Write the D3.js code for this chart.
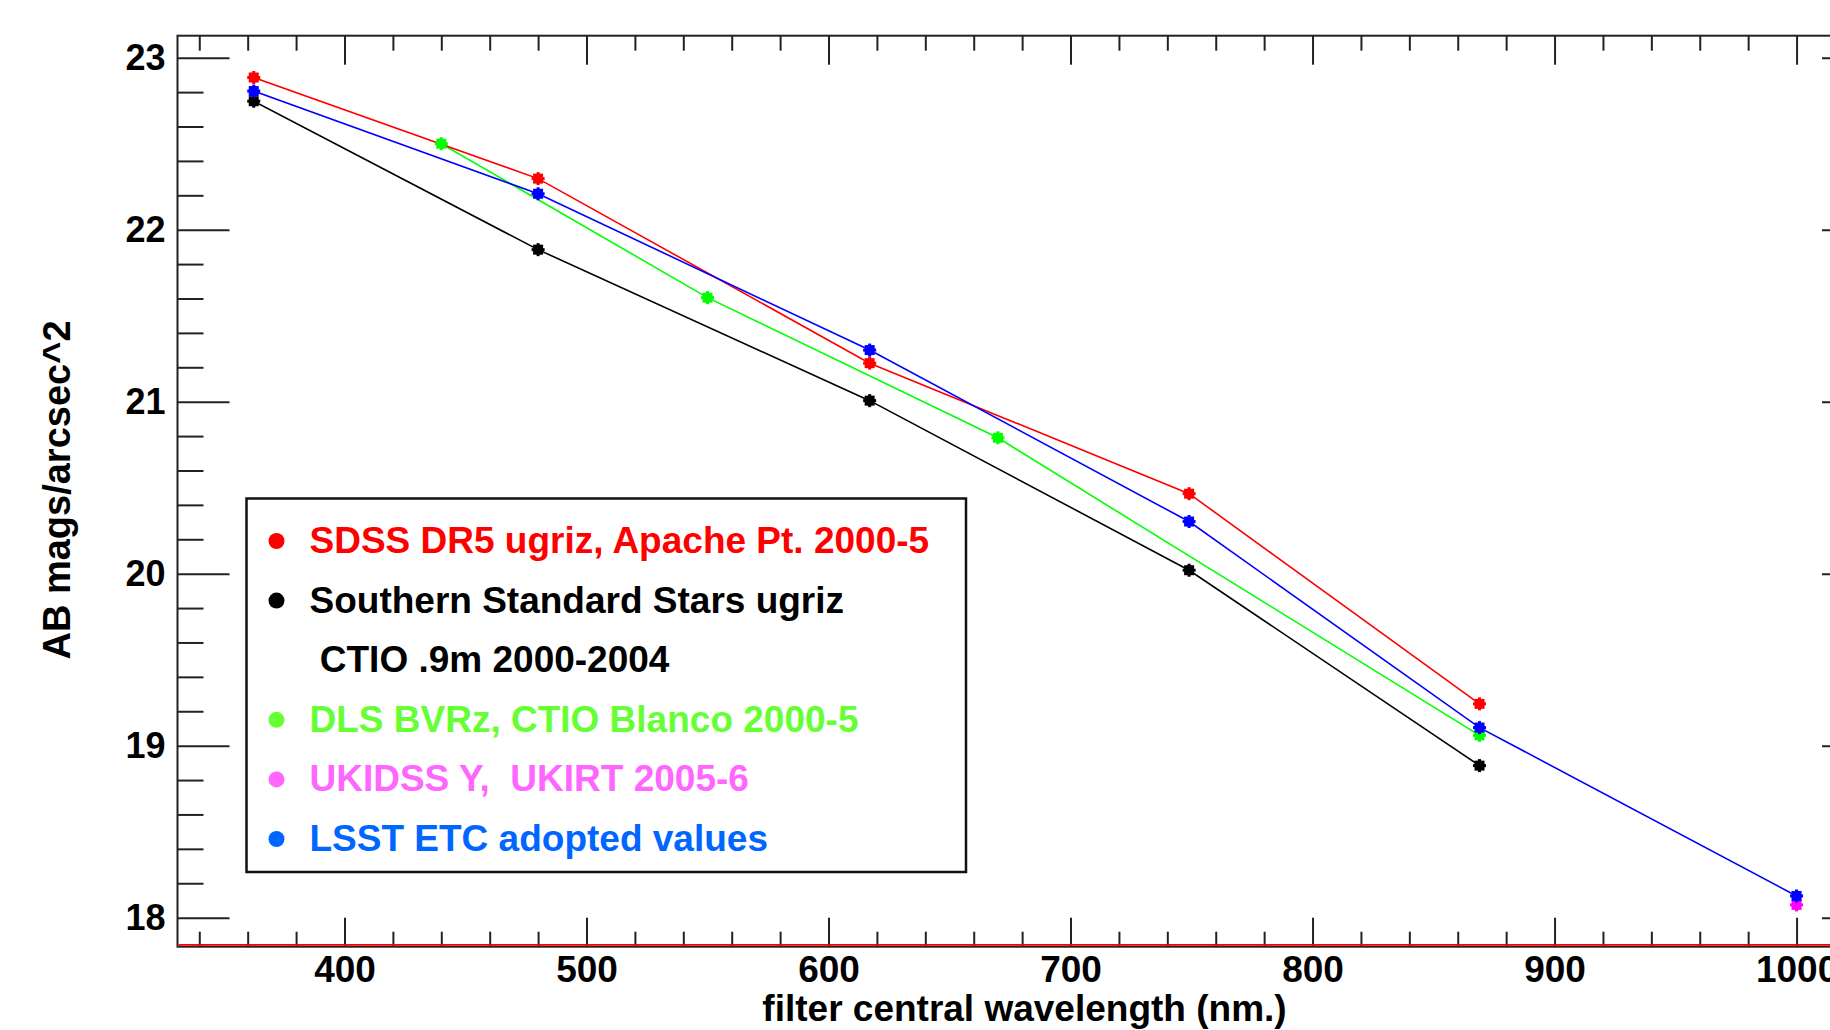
<!DOCTYPE html>
<html>
<head>
<meta charset="utf-8">
<script src="https://cdn.jsdelivr.net/npm/d3@7"></script>
<style>
  html, body { margin: 0; padding: 0; background: #fff; }
  svg { display: block; }
  text { font-family: "Liberation Sans", Arial, Helvetica, sans-serif; font-weight: bold; }
</style>
</head>
<body>
<script>
// ---------------- data ----------------
const sdssWave   = [362.5, 480, 617, 749, 869];
const sdssMag    = [22.885, 22.297, 21.224, 20.465, 19.243];

const southWave  = [362.5, 480, 617, 749, 869];
const southMag   = [22.747, 21.884, 21.006, 20.02, 18.884];

const dlsWave    = [440, 550, 670, 869];
const dlsMag     = [22.5, 21.605, 20.79, 19.06];

const ukidssWave = [1000];
const ukidssMag  = [18.074];

const lsstWave   = [362.5, 480, 617, 749, 869, 1000];
const lsstMag    = [22.806, 22.209, 21.30, 20.303, 19.105, 18.126];

const xTickLabels = [400, 500, 600, 700, 800, 900, 1000];
const yTickLabels = [18, 19, 20, 21, 22, 23];

const legendLabels = [
  "SDSS DR5 ugriz, Apache Pt. 2000-5",
  "Southern Standard Stars ugriz",
  " CTIO .9m 2000-2004",
  "DLS BVRz, CTIO Blanco 2000-5",
  "UKIDSS Y,  UKIRT 2005-6",
  "LSST ETC adopted values"
];
const legendColors = ["#ff0000", "#000000", null, "#66ff33", "#ff66ff", "#0066ff"];

const xTitle = "filter central wavelength (nm.)";
const yTitle = "AB mags/arcsec^2";

// ---------------- layout ----------------
const W = 1830, H = 1030;
const L = 177.5, R = 1874, T = 35.7, B = 946.7;

const svg = d3.select("body").append("svg").attr("width", W).attr("height", H);

const x = d3.scaleLinear().domain([331, 1032]).range([L, R]);
const y = d3.scaleLinear().domain([17.831, 23.128]).range([B, T]);

const xMinor = d3.range(340, 1040, 20).filter(v => v % 100 !== 0);
const yMinor = d3.range(18.2, 23.1, 0.2).map(v => +v.toFixed(1)).filter(v => Math.abs(v - Math.round(v)) > 1e-6);

function styleAxis(g) {
  g.select(".domain").remove();
  g.selectAll(".tick line").attr("stroke", "#222").attr("stroke-width", 2);
}

// bottom axis
svg.append("g").attr("transform", `translate(0,${B})`)
  .call(d3.axisBottom(x).tickValues(xTickLabels).tickSize(-29).tickPadding(9).tickFormat(d3.format("d")))
  .call(styleAxis)
  .call(g => g.selectAll("text").attr("font-size", 37).attr("fill", "#000"));
svg.append("g").attr("transform", `translate(0,${B})`)
  .call(d3.axisBottom(x).tickValues(xMinor).tickSize(-15).tickFormat(""))
  .call(styleAxis);

// top axis
svg.append("g").attr("transform", `translate(0,${T})`)
  .call(d3.axisTop(x).tickValues(xTickLabels).tickSize(-29).tickFormat(""))
  .call(styleAxis);
svg.append("g").attr("transform", `translate(0,${T})`)
  .call(d3.axisTop(x).tickValues(xMinor).tickSize(-15).tickFormat(""))
  .call(styleAxis);

// left axis
svg.append("g").attr("transform", `translate(${L},0)`)
  .call(d3.axisLeft(y).tickValues(yTickLabels).tickSize(-52).tickPadding(12).tickFormat(d3.format("d")))
  .call(styleAxis)
  .call(g => g.selectAll("text").attr("font-size", 36).attr("fill", "#000"));
svg.append("g").attr("transform", `translate(${L},0)`)
  .call(d3.axisLeft(y).tickValues(yMinor).tickSize(-26).tickFormat(""))
  .call(styleAxis);

// right axis
svg.append("g").attr("transform", `translate(${R},0)`)
  .call(d3.axisRight(y).tickValues(yTickLabels).tickSize(-52).tickFormat(""))
  .call(styleAxis);
svg.append("g").attr("transform", `translate(${R},0)`)
  .call(d3.axisRight(y).tickValues(yMinor).tickSize(-26).tickFormat(""))
  .call(styleAxis);

// frame
svg.append("rect").attr("x", L).attr("y", T).attr("width", R - L).attr("height", B - T)
  .attr("fill", "none").attr("stroke", "#222").attr("stroke-width", 2);
// red line along bottom
svg.append("line").attr("x1", L + 1).attr("x2", R).attr("y1", B - 1.8).attr("y2", B - 1.8)
  .attr("stroke", "#ff0000").attr("stroke-width", 1.6);

// ---------------- series ----------------
const series = [
  { wave: southWave,  mag: southMag,  color: "#000000" },
  { wave: dlsWave,    mag: dlsMag,    color: "#00ff00" },
  { wave: sdssWave,   mag: sdssMag,   color: "#ff0000" },
  { wave: lsstWave,   mag: lsstMag,   color: "#0000ff" },
  { wave: ukidssWave, mag: ukidssMag, color: "#ff00ff" }
];

const line = d3.line().x(d => x(d[0])).y(d => y(d[1]));

series.forEach(s => {
  const pts = s.wave.map((w, i) => [w, s.mag[i]]);
  if (pts.length > 1) {
    svg.append("path").datum(pts).attr("d", line)
      .attr("fill", "none").attr("stroke", s.color).attr("stroke-width", 1.6);
  }
});
// markers drawn after lines (magenta under blue at 1000)
const markerOrder = [series[4], series[0], series[1], series[2], series[3]];
markerOrder.forEach(s => {
  const pts = s.wave.map((w, i) => [w, s.mag[i]]);
  const g = svg.append("g");
  g.selectAll("rect.sq").data(pts).join("rect")
    .attr("x", d => x(d[0]) - 5).attr("y", d => y(d[1]) - 5)
    .attr("width", 10).attr("height", 10).attr("fill", s.color);
  g.selectAll("rect.h").data(pts).join("rect")
    .attr("x", d => x(d[0]) - 6.5).attr("y", d => y(d[1]) - 1.5)
    .attr("width", 13).attr("height", 3).attr("fill", s.color);
  g.selectAll("rect.v").data(pts).join("rect")
    .attr("x", d => x(d[0]) - 1.5).attr("y", d => y(d[1]) - 6.5)
    .attr("width", 3).attr("height", 13).attr("fill", s.color);
});

// ---------------- legend ----------------
const lg = svg.append("g");
lg.append("rect").attr("x", 246.5).attr("y", 498.5).attr("width", 719.5).attr("height", 373.5)
  .attr("fill", "#fff").attr("stroke", "#111").attr("stroke-width", 2.5);
const rowY = i => 553 + i * 59.6;
legendLabels.forEach((t, i) => {
  const c = legendColors[i];
  if (c) {
    lg.append("circle").attr("cx", 276.5).attr("cy", rowY(i) - 12).attr("r", 8).attr("fill", c);
  }
  lg.append("text").attr("x", 309.5).attr("y", rowY(i))
    .attr("font-size", 37).attr("fill", c || "#000000")
    .style("white-space", "pre").text(t);
});

// ---------------- titles ----------------
svg.append("text").attr("x", 1024.5).attr("y", 1021).attr("text-anchor", "middle")
  .attr("font-size", 37).attr("fill", "#000").text(xTitle);
svg.append("text").attr("transform", "translate(70,490) rotate(-90)").attr("text-anchor", "middle")
  .attr("font-size", 38).attr("fill", "#000").text(yTitle);
</script>
</body>
</html>
